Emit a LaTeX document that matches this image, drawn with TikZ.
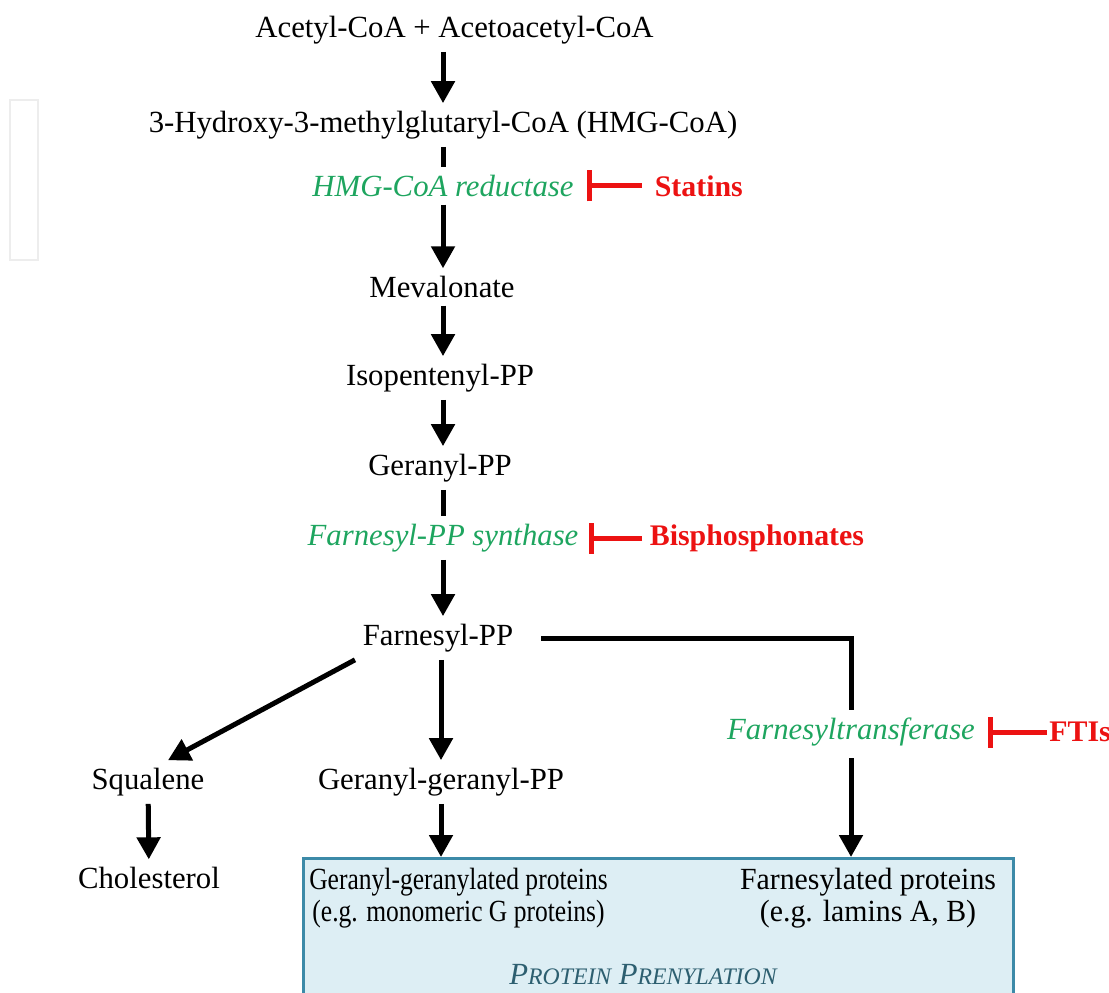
\documentclass[tikz,border=0pt]{standalone}
\usepackage{fontspec}
\setmainfont{Liberation Serif}
\usetikzlibrary{arrows.meta, positioning}
\definecolor{enzgreen}{RGB}{30,165,95}
\definecolor{inhred}{RGB}{236,18,18}
\definecolor{boxfill}{RGB}{221,238,244}
\definecolor{boxline}{RGB}{60,138,168}
\definecolor{boxtext}{RGB}{45,95,112}

\begin{document}
\begin{tikzpicture}[
  every node/.style={font=\fontsize{17.5}{18}\selectfont, inner sep=0.15cm},
  enzyme/.style={text=enzgreen, font=\fontsize{17.5}{18}\selectfont\itshape},
  drug/.style={text=inhred, font=\fontsize{17}{18}\selectfont\bfseries, anchor=west},
  flow/.style={-{Triangle[width=0.46cm,length=0.44cm]}, line width=0.1cm},
  link/.style={line width=0.1cm},
  inhibit/.style={-{Bar[width=0.62cm]}, line width=0.1cm, inhred},
  prenylbox/.style={draw=boxline, fill=boxfill, line width=0.06cm, inner sep=0}
]
\useasboundingbox (0,0) rectangle (22.18,-19.84);
\clip (0,0) rectangle (22.18,-19.84);
% faint frame on the left
\draw[black!7, line width=0.05cm] (0.2,-2.0) rectangle (0.76,-5.2);
% main pathway
\node (acac) at (9.09,-0.60) {Acetyl-CoA + Acetoacetyl-CoA};
\node (hmg)  at (8.86,-2.50) {3-Hydroxy-3-methylglutaryl-CoA (HMG-CoA)};
\node[enzyme] (hmgr) at (8.86,-3.72) {HMG-CoA reductase};
\node (meva) at (8.84,-5.74) {Mevalonate};
\node (ipp)  at (8.80,-7.56) {Isopentenyl-PP};
\node (gpp)  at (8.80,-9.36) {Geranyl-PP};
\node[enzyme] (fpps) at (8.86,-10.76) {Farnesyl-PP synthase};
\node (fpp)  at (8.76,-12.76) {Farnesyl-PP};
% branches
\node (sq)   at (2.96,-15.64) {Squalene};
\node (chol) at (2.98,-17.56) {Cholesterol};
\node (ggpp) at (8.82,-15.64) {Geranyl-geranyl-PP};
\node[enzyme] (ftase) at (17.02,-14.64) {Farnesyltransferase};
% inhibitors
\node[drug] (statins) at (12.94,-3.72) {Statins};
\node[drug] (bisph) at (12.84,-10.76) {Bisphosphonates};
\node[drug, inner sep=0.04cm] (ftis) at (20.94,-14.64) {FTIs};
% prenylation box
\node[prenylbox, minimum width=14.2cm, minimum height=3.4cm, anchor=north west] (box) at (6.04,-17.14) {};
\node[align=center] (ggprot) at (9.17,-17.96)
  {\scalebox{0.83}[1]{Geranyl-geranylated proteins}\\\scalebox{0.83}[1]{(e.g. monomeric G proteins)}};
\node[align=center] (fprot) at (17.36,-17.96)
  {\scalebox{0.97}[1]{Farnesylated proteins}\\\scalebox{0.97}[1]{(e.g. lamins A, B)}};
\node[text=boxtext, font=\fontsize{17.5}{18}\selectfont\itshape] (prenyl) at (12.86,-19.50)
  {P{\fontsize{13.5}{14}\selectfont ROTEIN} P{\fontsize{13.5}{14}\selectfont RENYLATION}};

% connectors
\draw[flow] (acac.south -| hmg) -- (hmg);
\draw[link] (hmg.south) -- (hmg.south |- hmgr.north);
\draw[flow] (hmgr.south -| hmg) -- (hmg |- meva.north);
\draw[flow] (meva.south -| hmg) -- (hmg |- ipp.north);
\draw[flow] (ipp.south -| hmg) -- (hmg |- gpp.north);
\draw[link] (gpp.south -| hmg) -- (hmg |- fpps.north);
\draw[flow] (fpps.south -| hmg) -- (hmg |- fpp.north);
\draw[flow] (fpp.south west) -- ([xshift=0.4cm]sq.north);
\draw[flow] (fpp.south -| ggpp) -- (ggpp);
\draw[flow] (sq) -- (chol);
\draw[flow] (ggpp) -- (ggpp |- box.north);
\draw[link, shorten <=0.4cm] (fpp.east) -| (ftase.north);
\draw[flow, shorten <=0.08cm] (ftase) -- (ftase |- box.north);
\draw[inhibit, shorten <=0.1cm] (statins.west) -- ([xshift=0.12cm]hmgr.east);
\draw[inhibit] (bisph.west) -- ([xshift=0.06cm]fpps.east);
\draw[inhibit] (ftis.west) -- ([xshift=0.1cm]ftase.east);
\end{tikzpicture}
\end{document}
